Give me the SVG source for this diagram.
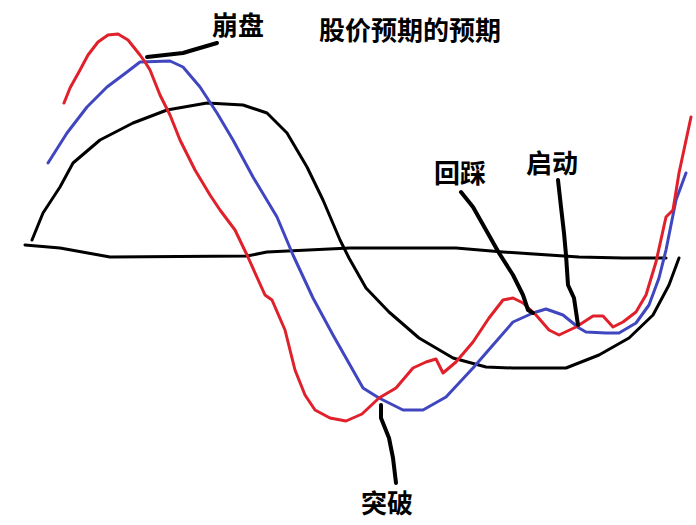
<svg xmlns="http://www.w3.org/2000/svg" width="696" height="525" viewBox="0 0 696 525">
<style>
.c{fill:none;stroke-linecap:round;stroke-linejoin:round}
.red{stroke:#e0202a;stroke-width:3}
.blue{stroke:#4046c0;stroke-width:3}
.blk{stroke:#000;stroke-width:3}
.lead{stroke:#000;stroke-width:4}
.t{font-family:"Noto Sans CJK SC","Noto Sans CJK TC",sans-serif;font-weight:bold;font-size:26px;fill:#000}
</style>
<rect width="696" height="525" fill="#fff"/>
<g id="curves">
<path id="baseline" class="c blk" d="M25,245 L60,248 L110,257 L247,256 L267,252 L350,248 L456,248 L503,252 L579,257 L623,258 L666,258"/>
<path id="black-curve" class="c blk" d="M32,240 L43,213 L60,187 L73,163 L100,140 L133,123 L167,110 L207,103 L243,105 L267,113 L287,133 L307,167 L323,200 L340,240 L349,258 L366,288 L389,312 L419,338 L453,358 L486,367 L513,368 L566,368 L599,355 L629,338 L653,315 L669,285 L679,258"/>
<path id="blue-curve" class="c blue" d="M48,163 L67,133 L87,107 L107,87 L127,72 L140,62 L170,61 L183,67 L200,87 L217,113 L233,140 L253,177 L277,217 L293,255 L313,298 L333,335 L350,365 L363,388 L379,398 L403,410 L423,410 L446,397 L473,368 L493,345 L513,322 L533,313 L546,309 L563,315 L579,328 L586,332 L606,333 L619,333 L636,323 L649,305 L659,278 L666,250 L676,200 L686,173"/>
<path id="red-curve" class="c red" d="M64,103 L70,88 L80,70 L88,55 L98,42 L108,35 L118,34 L128,40 L140,55 L145,62 L150,70 L160,95 L170,115 L180,140 L195,170 L210,195 L220,210 L235,230 L247,255 L265,295 L272,300 L285,330 L295,370 L305,395 L315,410 L330,418 L346,421 L362,414 L379,398 L396,388 L413,368 L426,362 L436,359 L443,373 L456,362 L473,342 L489,318 L503,300 L513,298 L523,303 L536,315 L549,330 L559,335 L576,327 L593,316 L603,316 L613,327 L623,322 L636,312 L646,295 L656,262 L666,217 L673,210 L679,173 L691,117"/>
</g>
<g id="connectors">
<path class="c lead" d="M147,57 L183,53 L193,50 L217,43"/>
<path class="c lead" d="M461,192 L473,207 L486,230 L499,253 L513,275 L523,295 L528,310 L533,313"/>
<path class="c lead" d="M558,180 L561,207 L564,233 L566,255 L568,285 L574,298 L578,325"/>
<path class="c lead" d="M381,405 L381,418 L389,438 L393,458 L396,483"/>
</g>
<g id="title"><text class="t" x="319" y="40">股价预期的预期</text></g>
<g id="n-bengpan"><text class="t" x="212" y="35">崩盘</text></g>
<g id="n-huicai"><text class="t" x="434" y="183">回踩</text></g>
<g id="n-qidong"><text class="t" x="526" y="173">启动</text></g>
<g id="n-tupo"><text class="t" x="361" y="513">突破</text></g>
</svg>
